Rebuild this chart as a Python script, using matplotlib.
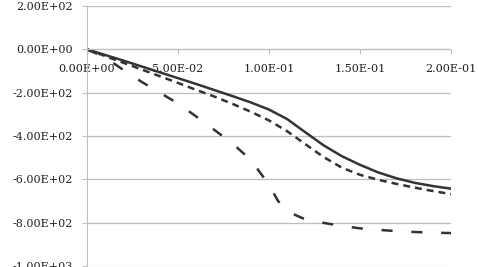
import numpy as np
import matplotlib
matplotlib.use('Agg')
import matplotlib.pyplot as plt

# values
x = [0, 0.01, 0.02, 0.03, 0.04, 0.05, 0.06, 0.07, 0.08, 0.09, 0.10,
     0.11, 0.12, 0.13, 0.14, 0.15, 0.16, 0.17, 0.18, 0.19, 0.20]
solid = [0, -26, -52, -79, -106, -133, -160, -188, -216, -245, -278,
         -322, -383, -443, -493, -533, -568, -595, -616, -631, -643]
short_dash = [0, -31, -62, -93, -124, -155, -187, -218, -252, -288, -328,
              -378, -438, -497, -546, -579, -602, -621, -638, -654, -668]

x_long = [0, 0.01, 0.02, 0.03, 0.04, 0.05, 0.06, 0.07, 0.08, 0.09, 0.10,
          0.105, 0.11, 0.12, 0.13, 0.14, 0.15, 0.16, 0.17, 0.18, 0.19, 0.20]
long_dash = [0, -38, -95, -150, -200, -250, -310, -372, -435, -510, -625,
             -700, -748, -785, -801, -815, -826, -833, -839, -843, -846, -848]

xticks = [0, 0.05, 0.10, 0.15, 0.20]
yticks = [200, 0, -200, -400, -600, -800, -1000]

plt.rcParams['font.family'] = ['DejaVu Serif']
plt.rcParams['lines.scale_dashes'] = False

fig = plt.figure(figsize=(4.78, 2.67), dpi=100)
ax = fig.add_axes([0.182, 0.0037, 0.7615, 0.9738])

line_col = '#333333'
grid_col = '#bfbfbf'

ax.plot(x, solid, color=line_col, lw=1.8)
ax.plot(x, short_dash, color=line_col, lw=1.8, dashes=(5, 3.6))
ax.plot(x_long, long_dash, color=line_col, lw=1.8, dashes=(8, 13.5))

ax.set_xlim(0, 0.2)
ax.set_ylim(-1000, 200)
ax.set_xticks(xticks)
ax.set_yticks(yticks)
ax.set_xticklabels(['%.2E' % v for v in xticks])
ax.set_yticklabels(['%.2E' % v for v in yticks])

ax.grid(axis='y', color=grid_col, lw=0.9)
ax.set_axisbelow(True)
for s in ['top', 'right']:
    ax.spines[s].set_visible(False)
ax.spines['bottom'].set_position(('data', 0))
ax.spines['bottom'].set_color(grid_col)
ax.spines['left'].set_color(grid_col)
ax.tick_params(axis='both', direction='out', length=3.5, color=grid_col,
               labelsize=8, labelcolor='#222222')
ax.tick_params(axis='x', pad=7)
ax.tick_params(axis='y', pad=7)

fig.savefig('out.png', dpi=100)
